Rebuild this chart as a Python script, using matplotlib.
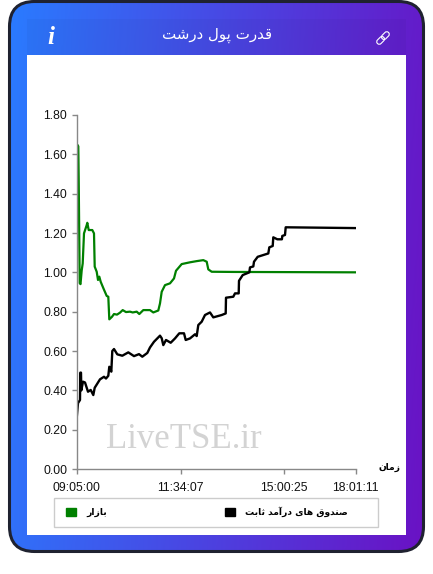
import numpy as np
import matplotlib
matplotlib.use('Agg')
import matplotlib.pyplot as plt
from matplotlib.colors import LinearSegmentedColormap
from matplotlib.patches import FancyBboxPatch, Patch, Rectangle
from matplotlib.transforms import Affine2D

# inputs
title_text = 'قدرت پول درشت'
market_label = 'بازار'
funds_label = 'صندوق های درآمد ثابت'
x_label = 'زمان'
tick_pos = [0, 104, 207, 279]
tick_labels = ['09:05:00', '11:34:07', '15:00:25', '18:01:11']
y_ticks = [0.0, 0.2, 0.4, 0.6, 0.8, 1.0, 1.2, 1.4, 1.6, 1.8]

market_x = [0.6, 1.2, 1.8, 2.2, 3.2, 4.0, 5.2, 6.2, 7.5, 10.2, 10.8, 12.2, 15.8, 17.5, 18.2, 20.2, 21.5, 22.8, 24.2,
            26.8, 30.2, 31.8, 32.8, 35.5, 37.5, 40.5, 43.5, 46.2, 49.5, 53.5, 56.2, 60.2, 62.8, 66.8, 70.2, 73.5,
            76.8, 81.8, 83.5, 85.2, 88.5, 93.5, 97.5, 99.5, 105.2, 113.5, 120.2, 126.8, 130.2, 131.8, 135.2, 156.8,
            279]
market_y = [1.56, 1.647, 1.64, 1.47, 0.945, 0.94, 1.01, 1.045, 1.198, 1.24, 1.252, 1.215, 1.215, 1.198, 1.029,
            1.003, 0.961, 0.978, 0.952, 0.92, 0.88, 0.876, 0.761, 0.774, 0.788, 0.785, 0.795, 0.808, 0.798, 0.80,
            0.796, 0.80, 0.788, 0.808, 0.808, 0.808, 0.796, 0.806, 0.842, 0.901, 0.935, 0.944, 0.969, 1.008, 1.042,
            1.051, 1.057, 1.062, 1.054, 1.015, 1.003, 1.002, 1.0]

funds_x = [0.2, 1.5, 3.5, 3.8, 4.5, 4.8, 6.5, 8.5, 11.5, 14.2, 16.8, 18.2, 23.5, 27.5, 29.5, 31.8, 32.8, 34.8,
           35.8, 37.5, 40.8, 45.8, 51.8, 57.5, 62.5, 65.8, 70.8, 73.5, 77.5, 83.5, 85.2, 86.8, 89.5, 94.2, 98.5,
           102.8, 107.5, 109.2, 113.5, 118.5, 120.2, 121.8, 125.2, 128.5, 133.5, 136.8, 145.2, 149.2, 149.5,
           156.8, 158.5, 162.2, 162.5, 166.2, 172.8, 173.5, 176.8, 177.5, 181.2, 191.8, 192.8, 196.2, 196.8,
           200.8, 205.4, 205.8, 208.5, 209.2, 279]
funds_y = [0.259, 0.335, 0.351, 0.49, 0.49, 0.40, 0.444, 0.44, 0.393, 0.402, 0.376, 0.413, 0.456, 0.469, 0.46,
           0.474, 0.52, 0.495, 0.60, 0.61, 0.583, 0.576, 0.593, 0.574, 0.584, 0.571, 0.59, 0.618, 0.647, 0.678,
           0.665, 0.63, 0.656, 0.642, 0.664, 0.69, 0.69, 0.656, 0.664, 0.685, 0.676, 0.732, 0.749, 0.783, 0.796,
           0.771, 0.783, 0.791, 0.871, 0.876, 0.893, 0.893, 0.957, 0.986, 1.0, 1.025, 1.03, 1.054, 1.079, 1.096,
           1.127, 1.134, 1.178, 1.168, 1.168, 1.185, 1.19, 1.229, 1.225]

# matplotlib does not shape arabic script, so pick the joined glyphs by hand
FORMS = {'ق': 'ﻕﻖﻗﻘ', 'ت': 'ﺕﺖﺗﺘ', 'پ': 'ﭖﭗﭘﭙ', 'ل': 'ﻝﻞﻟﻠ', 'ش': 'ﺵﺶﺷﺸ', 'ص': 'ﺹﺺﺻﺼ', 'ن': 'ﻥﻦﻧﻨ',
         'ب': 'ﺏﺐﺑﺒ', 'م': 'ﻡﻢﻣﻤ', 'ه': 'ﻩﻪﻫﻬ', 'ی': 'ﯼﯽﯾﯿ', 'ث': 'ﺙﺚﺛﺜ',
         'د': 'ﺩﺪ', 'ر': 'ﺭﺮ', 'و': 'ﻭﻮ', 'ز': 'ﺯﺰ', 'ا': 'ﺍﺎ', 'آ': 'ﺁﺂ'}


def shape(text):
    out = []
    for i, ch in enumerate(text):
        if ch not in FORMS:
            out.append(ch)
            continue
        prev = text[i - 1] if i > 0 else ' '
        nxt = text[i + 1] if i + 1 < len(text) else ' '
        after = prev in FORMS and len(FORMS[prev]) == 4
        before = nxt in FORMS and len(FORMS[ch]) == 4
        form = 3 if after and before else 1 if after else 2 if before else 0
        out.append(FORMS[ch][form])
    return ''.join(reversed(out))


plt.rcParams['font.family'] = ['Liberation Sans', 'DejaVu Sans']
fig = plt.figure(figsize=(4.33, 5.74), dpi=100, facecolor='white')

# card behind the chart, in pixel coordinates
bg = fig.add_axes([0, 0, 1, 1], zorder=0)
bg.axis('off')
cmap = LinearSegmentedColormap.from_list('card', ['#2a7bff', '#4a45e2', '#6a12c4'])
gx, gy = np.meshgrid(np.linspace(0, 1, 200), np.linspace(0, 1, 200))
im = bg.imshow(gx * 0.9 + gy * 0.1, cmap=cmap, extent=(9, 424, 552, 1), aspect='auto', zorder=1)
frame = FancyBboxPatch((34.5, 26.5), 364, 500, boxstyle='round,pad=25,rounding_size=25', fc='none',
                       ec='#1f2230', lw=2.2, zorder=3)
bg.add_patch(frame)
im.set_clip_path(frame)
bg.set_xlim(0, 433)
bg.set_ylim(574, 0)
bg.add_patch(Rectangle((27, 19), 379, 36, fc='black', alpha=0.03, ec='none', zorder=2))
bg.add_patch(Rectangle((27, 55), 379, 480, fc='white', ec='none', zorder=2))
bg.text(217.5, 35, shape(title_text), color='white', fontsize=10.8, ha='center', va='center',
        family='DejaVu Sans', zorder=4)
bg.text(51, 37, 'i', color='white', fontsize=18, ha='center', va='center', family='Liberation Serif',
        weight='bold', style='italic', zorder=4)
for off in (-3.4, 3.4):
    link = FancyBboxPatch((383 + off - 3.4, 38 - 1.5), 6.8, 3.0, boxstyle='round,pad=1,rounding_size=2.5',
                          fc='none', ec='white', lw=0.8, zorder=4,
                          transform=Affine2D().rotate_deg_around(383, 38, -45) + bg.transData)
    bg.add_patch(link)
bg.text(183.5, 440, 'LiveTSE.ir', color='#d3d3d3', fontsize=25, ha='center', va='center',
        family='Liberation Serif', zorder=4)

ax = fig.add_axes([76.5 / 433, 105 / 574, 279 / 433, 354 / 574], zorder=1)
ax.patch.set_alpha(0)
ax.plot(market_x, market_y, color='#008000', lw=1.6, solid_joinstyle='round')
ax.plot(funds_x, funds_y, color='black', lw=1.7, solid_joinstyle='round')
ax.set_xlim(0, 279)
ax.set_ylim(0, 1.8)
ax.set_xticks(tick_pos)
ax.set_xticklabels(tick_labels)
ax.set_yticks(y_ticks)
ax.set_yticklabels(['{0:.2f}'.format(v) for v in y_ticks])
ax.tick_params(axis='x', length=3.6, width=1, color='#888888', labelsize=8.8, pad=6, labelcolor='#111111')
ax.tick_params(axis='y', length=3.6, width=1, color='#888888', labelsize=8.8, pad=3, labelcolor='#111111')
for side in ('top', 'right'):
    ax.spines[side].set_visible(False)
for side in ('left', 'bottom'):
    ax.spines[side].set_color('#888888')
    ax.spines[side].set_linewidth(1)
bg.text(389.5, 467, shape(x_label), fontsize=6.6, weight='bold', ha='center', va='center',
        family='DejaVu Sans', color='black', zorder=4)

# legend frame is wider than its entries, so it is drawn apart
bg.add_patch(Rectangle((54, 497.5), 324, 29, fc='white', ec='#cccccc', lw=1, zorder=4))
handles = [Patch(color='#008000', label=shape(market_label)), Patch(color='black', label=shape(funds_label))]
leg = fig.legend(handles=handles, ncols=2, loc='center left', bbox_to_anchor=(66 / 433, (574 - 512) / 574),
                 prop={'family': 'DejaVu Sans', 'weight': 'bold', 'size': 6.6}, frameon=False,
                 handlelength=1.09, handleheight=1.09, handletextpad=1.09, columnspacing=12.9,
                 borderpad=0, borderaxespad=0)

plt.savefig('out.png', dpi=100)
plt.close(fig)
